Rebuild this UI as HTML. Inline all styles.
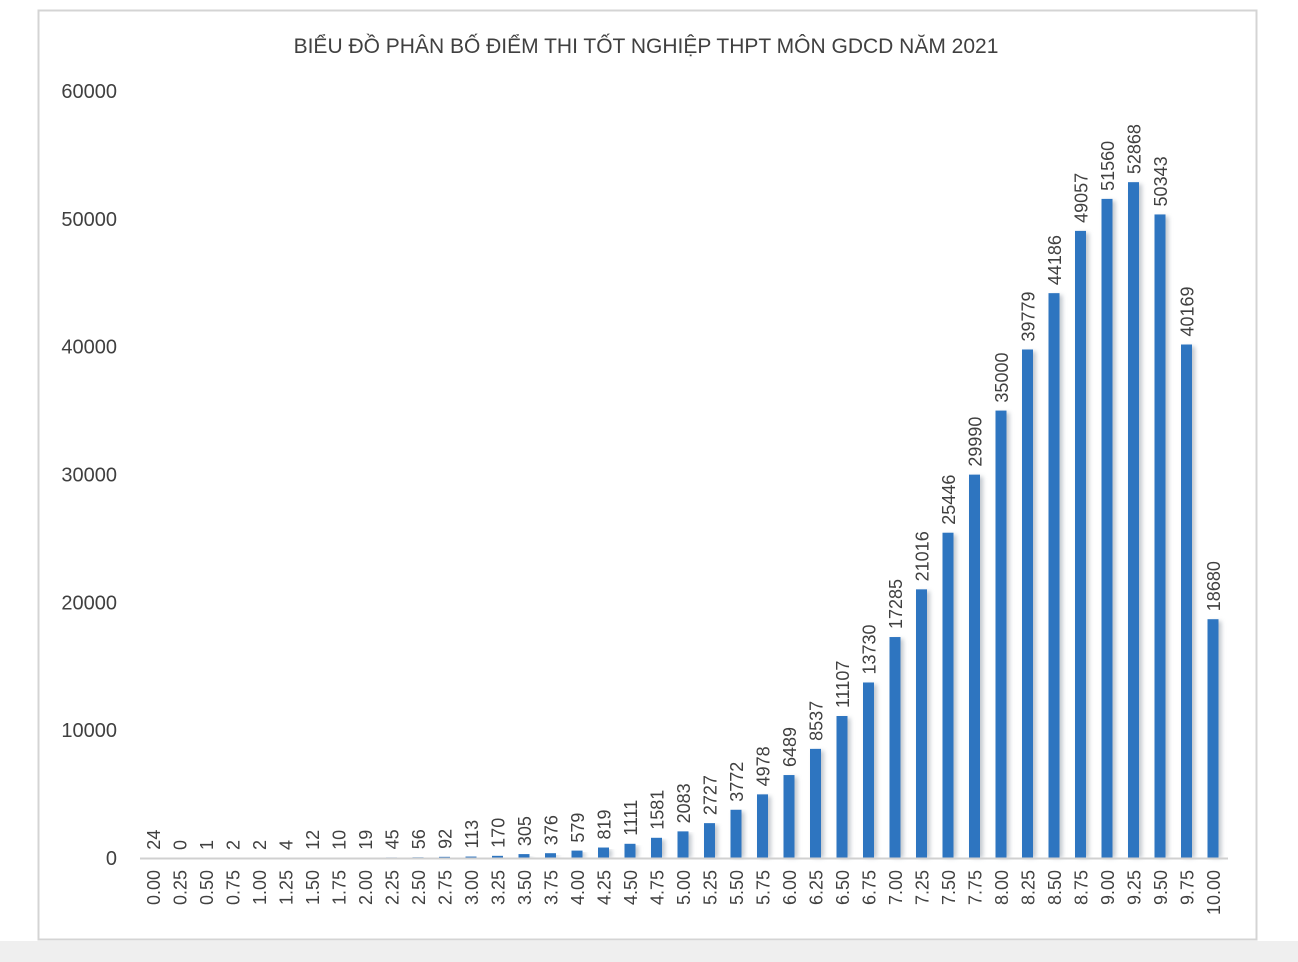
<!DOCTYPE html>
<html><head><meta charset="utf-8">
<style>
html,body{margin:0;padding:0;background:#fff;}
body{width:1298px;height:962px;overflow:hidden;position:relative;font-family:"Liberation Sans",sans-serif;}
</style></head>
<body>
<div style="position:absolute;left:0;top:941px;width:1298px;height:21px;background:#efefef;"></div>
<svg id="chart" width="1298" height="962" style="position:absolute;left:0;top:0">
<defs>
<filter id="sh" x="-50%" y="-5%" width="200%" height="110%"><feGaussianBlur stdDeviation="2"/></filter>
</defs>
<rect x="38.5" y="10.5" width="1218" height="929" fill="#fff" stroke="#d4d4d4" stroke-width="2"/>
<text x="646" y="53" text-anchor="middle" font-size="21" fill="#404040" font-family="Liberation Sans, sans-serif">BIỂU ĐỒ PHÂN BỐ ĐIỂM THI TỐT NGHIỆP THPT MÔN GDCD NĂM 2021</text>
<g id="yaxis"></g>
<g id="bars"></g>
<line x1="140" y1="858.5" x2="1228" y2="858.5" stroke="#d0d0d0" stroke-width="2"/>
<g id="xaxis"></g>
</svg>
<script>
const categories=["0.00","0.25","0.50","0.75","1.00","1.25","1.50","1.75","2.00","2.25","2.50","2.75","3.00","3.25","3.50","3.75","4.00","4.25","4.50","4.75","5.00","5.25","5.50","5.75","6.00","6.25","6.50","6.75","7.00","7.25","7.50","7.75","8.00","8.25","8.50","8.75","9.00","9.25","9.50","9.75","10.00"];
const values=[24,0,1,2,2,4,12,10,19,45,56,92,113,170,305,376,579,819,1111,1581,2083,2727,3772,4978,6489,8537,11107,13730,17285,21016,25446,29990,35000,39779,44186,49057,51560,52868,50343,40169,18680];
const yTicks=[0,10000,20000,30000,40000,50000,60000];
const NS="http://www.w3.org/2000/svg";
const y0=858,yTop=91,yMax=60000;
const x0=153,step=26.5,bw=11;
function ys(v){return y0-(v/yMax)*(y0-yTop);}
function xs(i){return x0+i*step;}
const gy=document.getElementById('yaxis'),gb=document.getElementById('bars'),gx=document.getElementById('xaxis');
yTicks.forEach(t=>{
 const el=document.createElementNS(NS,'text');
 
 
 el.setAttribute('x',117);el.setAttribute('y',ys(t)+7);
 el.setAttribute('text-anchor','end');el.setAttribute('font-size','20');el.setAttribute('fill','#404040');
 el.textContent=t;gy.appendChild(el);
});
categories.forEach((c,i)=>{
 const v=values[i],cx=xs(i),top=ys(v);
 const s=document.createElementNS(NS,'rect');
 
 
 s.setAttribute('x',cx-bw/2+3);s.setAttribute('y',top+2);s.setAttribute('width',bw);s.setAttribute('height',Math.max(y0-top-2,0));
 s.setAttribute('fill','#9aa3ad');s.setAttribute('opacity','0.6');s.setAttribute('filter','url(#sh)');
 gb.appendChild(s);
 const r=document.createElementNS(NS,'rect');
 
 
 r.setAttribute('x',cx-bw/2);r.setAttribute('y',top);r.setAttribute('width',bw);r.setAttribute('height',Math.max(y0-top,0.5));
 r.setAttribute('fill','#2e75c0');
 gb.appendChild(r);
 const l=document.createElementNS(NS,'text');
 
 
 l.setAttribute('transform','translate('+(cx+7)+','+(top-8)+') rotate(-90)');
 l.setAttribute('font-size','18');l.setAttribute('fill','#404040');
 l.textContent=v;gb.appendChild(l);
 const t=document.createElementNS(NS,'text');
 
 
 t.setAttribute('transform','translate('+(cx+7)+','+870+') rotate(-90)');
 t.setAttribute('text-anchor','end');t.setAttribute('font-size','18');t.setAttribute('fill','#404040');
 t.textContent=c;gx.appendChild(t);
});
</script>
</body></html>
